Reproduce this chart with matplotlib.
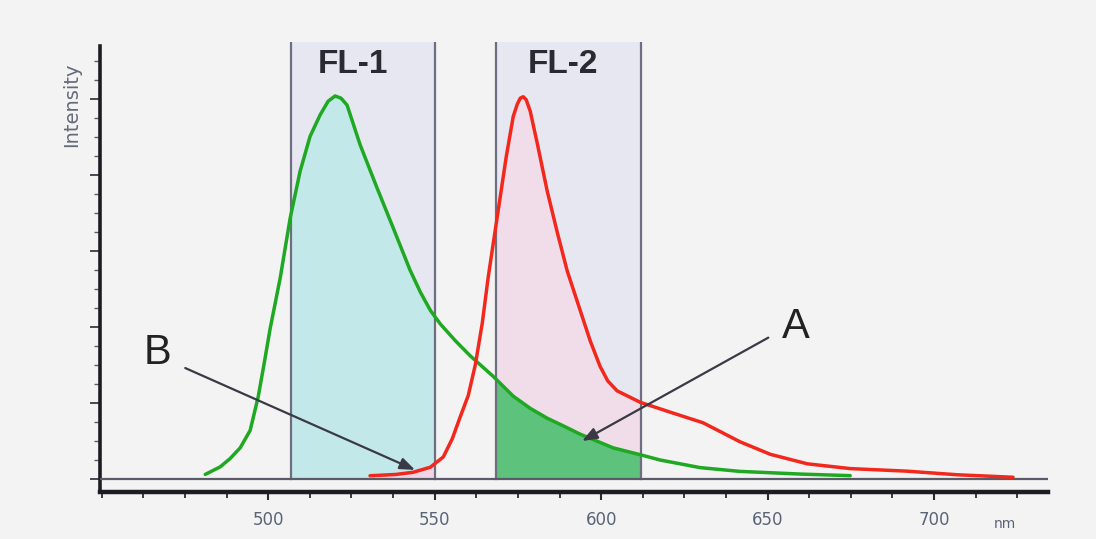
import numpy as np
import matplotlib.pyplot as plt
from matplotlib.patches import Rectangle

# spectra (wavelength nm, intensity)
green_nm = [481.1, 485.6, 488.6, 491.6, 494.6, 497.0, 498.8, 500.6, 503.6, 506.6,
            509.6, 512.6, 515.6, 518.0, 520.1, 521.9, 523.7, 527.6, 532.7, 537.5,
            542.6, 545.7, 548.7, 551.7, 556.2, 560.7, 567.6, 573.6, 578.7, 583.8,
            588.6, 593.7, 603.6, 611.7, 617.7, 629.7, 641.7, 659.8, 674.8]
green_i = [0.06, 0.16, 0.27, 0.41, 0.64, 1.08, 1.52, 1.98, 2.64, 3.43,
           4.05, 4.51, 4.79, 4.97, 5.04, 5.01, 4.92, 4.40, 3.83, 3.31,
           2.75, 2.46, 2.22, 2.04, 1.82, 1.62, 1.35, 1.09, 0.93, 0.80,
           0.70, 0.59, 0.41, 0.32, 0.25, 0.15, 0.10, 0.065, 0.044]

red_nm = [530.6, 538.1, 543.5, 548.7, 552.6, 555.3, 557.7, 560.1, 562.2, 564.3,
          566.1, 568.8, 571.5, 573.6, 574.8, 575.7, 576.6, 577.5, 578.7, 580.8,
          583.8, 586.8, 589.8, 592.8, 596.7, 599.7, 602.0, 604.8, 611.7, 620.7,
          630.6, 641.7, 650.8, 661.9, 674.8, 691.9, 706.9, 723.7]
red_i = [0.043, 0.059, 0.088, 0.155, 0.29, 0.53, 0.82, 1.10, 1.50, 2.05,
         2.66, 3.45, 4.24, 4.77, 4.93, 5.01, 5.03, 4.99, 4.84, 4.42,
         3.79, 3.25, 2.74, 2.34, 1.82, 1.48, 1.29, 1.16, 1.01, 0.88,
         0.74, 0.49, 0.325, 0.20, 0.137, 0.103, 0.056, 0.023]

bands = {"FL-1": (507.0, 550.0), "FL-2": (568.5, 612.0)}
band_label_x = {"FL-1": 525.5, "FL-2": 588.6}

xlim = (449.5, 734.2)
ylim = (-0.171, 5.75)

fig = plt.figure(figsize=(10.96, 5.39), dpi=100, facecolor="#f3f3f3")
ax = fig.add_axes([100 / 1096, 1 - 492 / 539, 948 / 1096, 450 / 539])
ax.set_facecolor("none")
ax.set_xlim(*xlim)
ax.set_ylim(*ylim)

gx = np.array(green_nm)
gy = np.array(green_i)
rx = np.array(red_nm)
ry = np.array(red_i)

for name, (x0, x1) in bands.items():
    rect = Rectangle((x0, 0), x1 - x0, ylim[1], facecolor="#e6e7f1",
                     edgecolor="none", zorder=1)
    ax.add_patch(rect)
    clip = Rectangle((x0, 0), x1 - x0, ylim[1], transform=ax.transData)
    if name == "FL-1":
        f1 = ax.fill_between(gx, gy, 0, color="#c3e8ea", lw=0, zorder=2)
        f2 = ax.fill_between(rx, ry, 0, color="#f0d6e4", lw=0, zorder=2)
    else:
        f1 = ax.fill_between(rx, ry, 0, color="#f1dcea", lw=0, zorder=2)
        f2 = ax.fill_between(gx, gy, 0, color="#5cc27c", lw=0, zorder=3)
    f1.set_clip_path(clip)
    f2.set_clip_path(clip)
    for xe in (x0, x1):
        ax.plot([xe, xe], [0, ylim[1]], color="#6d6f80", lw=1.6, zorder=4)
    ax.text(band_label_x[name], 5.45, name, ha="center", va="center",
            fontsize=24, fontweight="bold", family="Liberation Sans",
            color="#2a2a30", zorder=6)

ax.axhline(0, color="#5a5a68", lw=1.6, zorder=4)

ax.plot(gx, gy, color="#1fa822", lw=2.5, solid_capstyle="round",
        solid_joinstyle="round", zorder=5)
ax.plot(rx, ry, color="#f2281c", lw=2.5, solid_capstyle="round",
        solid_joinstyle="round", zorder=5)

arrow = dict(arrowstyle="-|>,head_length=0.9,head_width=0.35",
             color="#3a3a44", lw=1.6, shrinkA=0, shrinkB=0)
ax.annotate("", xy=(544.1, 0.12), xytext=(475.1, 1.46),
            arrowprops=arrow, zorder=7)
ax.annotate("", xy=(594.3, 0.50), xytext=(650.2, 1.86),
            arrowprops=arrow, zorder=7)
ax.text(466.7, 1.66, "B", fontsize=30, family="Liberation Sans",
        color="#222222", ha="center", va="center")
ax.text(658.6, 2.0, "A", fontsize=30, family="Liberation Sans",
        color="#222222", ha="center", va="center")

# axes styling
for s in ("top", "right"):
    ax.spines[s].set_visible(False)
ax.spines["bottom"].set_linewidth(3.2)
ax.spines["bottom"].set_color("#1c1c22")
ax.spines["left"].set_linewidth(2.6)
ax.spines["left"].set_color("#1c1c22")
ax.spines["left"].set_bounds(ylim[0], 5.7)

ax.set_xticks([500, 550, 600, 650, 700])
ax.set_xticks(np.arange(450, 735, 12.5), minor=True)
ax.set_xticklabels(["500", "550", "600", "650", "700"])
ax.tick_params(axis="x", which="major", length=6, width=1.5, color="#2a2a33",
               labelsize=12, labelcolor="#5a6478", pad=8)
ax.tick_params(axis="x", which="minor", length=4, width=1.3, color="#2a2a33")

ax.set_yticks([0, 1, 2, 3, 4, 5])
ax.set_yticks(np.arange(0, 5.75, 0.25), minor=True)
ax.set_yticklabels([])
ax.tick_params(axis="y", which="major", length=7, width=1.3, color="#3a3a48")
ax.tick_params(axis="y", which="minor", length=4, width=1.0, color="#5a5a70")

ax.text(-0.03, 4.92, "Intensity", rotation=90, ha="center", va="center",
        fontsize=14, color="#646a7a",
        transform=ax.get_yaxis_transform())
ax.text(721.3, -0.07, "nm", transform=ax.get_xaxis_transform(),
        ha="center", va="center", fontsize=10, color="#5a6478")

fig.savefig("out.png", dpi=100, facecolor=fig.get_facecolor())
